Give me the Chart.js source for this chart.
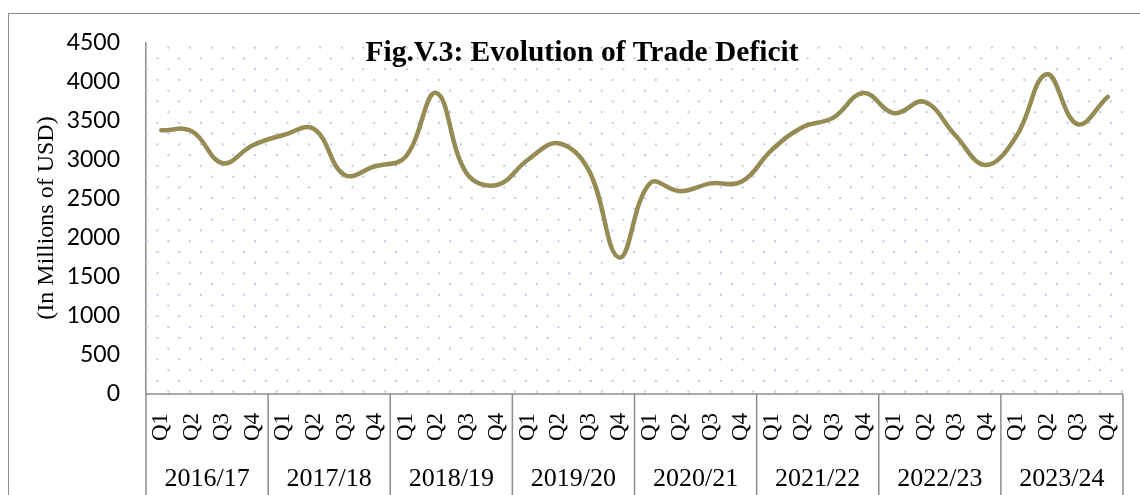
<!DOCTYPE html>
<html>
<head>
<meta charset="utf-8">
<script src="https://cdn.jsdelivr.net/npm/chart.js@4.4.1/dist/chart.umd.min.js"></script>
<style>
  html, body { margin: 0; padding: 0; background: #fff; }
  #wrap { position: relative; width: 1140px; height: 495px; }
  #frame { position: absolute; left: 8px; top: 13px; width: 1200px; height: 600px;
           border-top: 1.5px solid #8c8c8c; border-left: 1.5px solid #8c8c8c; }
  canvas { position: absolute; left: 0; top: 0; }
</style>
</head>
<body>
<div id="wrap">
  <div id="frame"></div>
  <canvas id="tradeChart" width="1140" height="495"></canvas>
</div>
<script>
let YEARS = ['2016/17', '2017/18', '2018/19', '2019/20', '2020/21', '2021/22', '2022/23', '2023/24'];
let QUARTERS = ['Q1', 'Q2', 'Q3', 'Q4'];
let DEFICIT = [3380, 3370, 2960, 3190, 3320, 3400, 2810, 2920,
               3040, 3860, 2830, 2680, 3000, 3215, 2870, 1750,
               2700, 2600, 2700, 2720, 3130, 3420, 3540, 3860,
               3600, 3745, 3320, 2935, 3300, 4100, 3460, 3810];
let Y_TICKS = [0, 500, 1000, 1500, 2000, 2500, 3000, 3500, 4000, 4500];

let labels = [];
YEARS.forEach(function () {
    QUARTERS.forEach(function (q) { labels.push(q); });
});

let GRAY = '#8c8c8c';

// dotted pattern behind the line
let dotsPlugin = {
    id: 'dots',
    beforeDatasetsDraw(chart) {
        let a = chart.chartArea;
        let ctx = chart.ctx;
        ctx.save();
        ctx.fillStyle = '#b9cbe9';
        let row = 0;
        for (let y = a.bottom - 2.3; y > a.top; y -= 10.75) {
            let off = (row % 2 === 0) ? 0.7 : 11.5;
            for (let x = a.left + off; x < a.right; x += 21.67) {
                ctx.beginPath();
                ctx.arc(x, y, 1.15, 0, Math.PI * 2);
                ctx.fill();
            }
            row++;
        }
        ctx.restore();
    }
};

// group separators under the axis, title, y title
let extrasPlugin = {
    id: 'extras',
    afterDraw(chart) {
        let ctx = chart.ctx;
        let a = chart.chartArea;
        let x2 = chart.scales.x2;
        let step = x2.getPixelForValue(1) - x2.getPixelForValue(0);
        ctx.save();
        ctx.strokeStyle = GRAY;
        ctx.lineWidth = 1.5;
        for (let g = 0; g <= YEARS.length; g++) {
            let px = x2.getPixelForValue(0) - step / 2 + g * step;
            ctx.beginPath();
            ctx.moveTo(px, a.bottom);
            ctx.lineTo(px, chart.height);
            ctx.stroke();
        }
        ctx.beginPath();
        ctx.moveTo(a.left, a.bottom);
        ctx.lineTo(a.right, a.bottom);
        ctx.stroke();

        ctx.fillStyle = '#000';
        ctx.font = 'bold 29.5px "Liberation Serif"';
        ctx.textAlign = 'center';
        ctx.textBaseline = 'alphabetic';
        ctx.fillText('Fig.V.3: Evolution of Trade Deficit', 582, 61);

        ctx.translate(47, 218);
        ctx.rotate(-Math.PI / 2);
        ctx.font = '24px "Liberation Serif"';
        ctx.textBaseline = 'middle';
        ctx.fillText('(In Millions of USD)', 0, 0);
        ctx.restore();
    }
};

function noSidePadding(scale) {
    scale.paddingLeft = 0;
    scale.paddingRight = 0;
}

let config = {
    type: 'line',
    data: {
        labels: labels,
        datasets: [
            {
                label: 'Trade Deficit',
                data: DEFICIT,
                borderColor: '#968b52',
                borderWidth: 4.5,
                borderCapStyle: 'round',
                pointRadius: 0,
                tension: 0.4,
                fill: false
            }
        ]
    },
    options: {
        responsive: false,
        animation: false,
        layout: { padding: { top: 43, right: 17, left: 0, bottom: 0 } },
        plugins: {
            legend: { display: false },
            tooltip: { enabled: false }
        },
        scales: {
            y: {
                min: 0,
                max: 4500,
                afterBuildTicks(scale) {
                    scale.ticks = Y_TICKS.map(function (v) { return { value: v }; });
                },
                afterFit(scale) { scale.width = 146; scale.paddingTop = 0; scale.paddingBottom = 0; },
                grid: { display: false, drawTicks: false },
                border: { display: true, color: GRAY, width: 1.5 },
                ticks: {
                    padding: 26,
                    color: '#000',
                    font: { family: 'Lato', size: 23 },
                    callback: function (v) { return String(v); }
                }
            },
            x: {
                weight: 0,
                offset: true,
                afterFit(scale) { scale.height = 60; noSidePadding(scale); },
                grid: { display: false, drawTicks: false, offset: true },
                border: { display: false },
                ticks: {
                    autoSkip: false,
                    minRotation: 90,
                    maxRotation: 90,
                    padding: 19,
                    color: '#000',
                    font: { family: 'Liberation Serif', size: 23 }
                }
            },
            x2: {
                type: 'category',
                position: 'bottom',
                weight: 1,
                labels: YEARS,
                offset: true,
                afterFit(scale) { scale.height = 41; noSidePadding(scale); },
                grid: { display: false, drawTicks: false },
                border: { display: false },
                ticks: {
                    autoSkip: false,
                    maxRotation: 0,
                    padding: 10,
                    color: '#000',
                    font: { family: 'Liberation Serif', size: 26 }
                }
            }
        }
    },
    plugins: [dotsPlugin, extrasPlugin]
};

new Chart(document.getElementById('tradeChart'), config);
</script>
</body>
</html>
